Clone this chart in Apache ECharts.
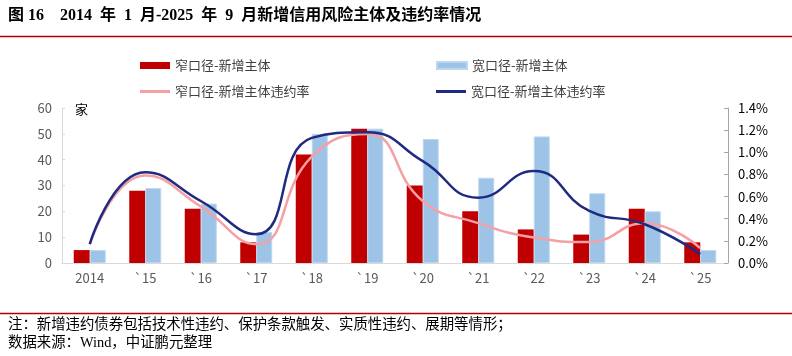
<!DOCTYPE html>
<html><head><meta charset="utf-8">
<script src="https://cdn.jsdelivr.net/npm/echarts@6/dist/echarts.min.js"></script>
<style>html,body{margin:0;padding:0;background:#fff}#c{width:792px;height:356px}</style>
</head><body><div id="c"></div>
<script>
const categories = ['2014','`15','`16','`17','`18','`19','`20','`21','`22','`23','`24','`25'];
const narrowCount = [5,28,21,8,42,52,30,20,13,11,21,8];
const wideCount = [5,29,23,12,50,52,48,33,49,27,20,5];
const narrowRate = [0.17,0.79,0.51,0.17,0.96,1.165,0.56,0.36,0.23,0.19,0.36,0.135];
const wideRate = [0.17,0.82,0.56,0.26,1.13,1.18,0.92,0.59,0.83,0.47,0.35,0.08];
const leftTicks = [0,10,20,30,40,50,60];
const rightTicks = ['0.0%','0.2%','0.4%','0.6%','0.8%','1.0%','1.2%','1.4%'];
const names = ['窄口径-新增主体','宽口径-新增主体','窄口径-新增主体违约率','宽口径-新增主体违约率'];
const titleText = '图 16\u2002\u20022014\u2002年\u20021\u2002月-2025\u2002年\u20029\u2002月新增信用风险主体及违约率情况';
const note1 = '注：新增违约债券包括技术性违约、保护条款触发、实质性违约、展期等情形；';
const note2 = '数据来源：Wind，中证鹏元整理';

const chart = echarts.init(document.getElementById('c'), null, {renderer:'canvas'});
const sansFont = '"Noto Sans CJK SC", "Liberation Sans", sans-serif';
const serifFont = '"Liberation Serif", "Noto Sans CJK SC", serif';
const legendText = {color:'#404040', fontSize:13, fontFamily:sansFont};
function lg(left, top, name, h){
  return {left:left, top:top, itemWidth:30, itemHeight:h, icon:'rect', textStyle:legendText, data:[name]};
}
chart.setOption({
  animation:false,
  backgroundColor:'#fff',
  grid:{left:62, right:64, top:108, bottom:93},
  legend:[
    lg(135, 54, names[0], 7),
    lg(431, 54, names[1], 7),
    lg(135, 80, names[2], 3),
    lg(431, 80, names[3], 3)
  ],
  xAxis:{type:'category', data:categories,
    axisLine:{lineStyle:{color:'#d9d9d9', width:1}}, axisTick:{show:false},
    axisLabel:{color:'#595959', fontSize:13, margin:9, fontFamily:sansFont}},
  yAxis:[
    {type:'value', min:0, max:60, interval:10, position:'left',
     axisLine:{show:true, lineStyle:{color:'#d9d9d9'}}, axisTick:{show:true, inside:true, length:3, lineStyle:{color:'#d9d9d9'}},
     splitLine:{show:false},
     axisLabel:{color:'#595959', fontSize:13, margin:10, fontFamily:sansFont,
       formatter:v=>String(leftTicks[Math.round(v/10)])}},
    {type:'value', min:0, max:1.4, interval:0.2, position:'right',
     axisLine:{show:true, lineStyle:{color:'#a6a6a6'}}, axisTick:{show:true, inside:true, length:4, lineStyle:{color:'#a6a6a6'}},
     splitLine:{show:false},
     axisLabel:{color:'#000', fontSize:13, margin:10, fontFamily:sansFont,
       formatter:v=>rightTicks[Math.round(v/0.2)]}}
  ],
  series:[
    {name:names[0], type:'bar', data:narrowCount, barWidth:16, barGap:'0%', barCategoryGap:'42%',
     itemStyle:{color:'#C00000'}},
    {name:names[1], type:'bar', data:wideCount, barWidth:16, barGap:'0%',
     itemStyle:{color:'#9DC3E6', borderColor:'#BDD7EE', borderWidth:1}},
    {name:names[2], type:'line', yAxisIndex:1, data:narrowRate, smooth:0.5, symbol:'none',
     lineStyle:{color:'#F4A0A4', width:2.5}, itemStyle:{color:'#F4A0A4'}},
    {name:names[3], type:'line', yAxisIndex:1, data:wideRate, smooth:0.5, symbol:'none',
     lineStyle:{color:'#1F2A80', width:2.5}, itemStyle:{color:'#1F2A80'}}
  ],
  graphic:[
    {type:'text', left:8, top:8, style:{text:titleText, fontSize:16, fontWeight:'bold', fill:'#000', fontFamily:serifFont}},
    {type:'line', shape:{x1:0, y1:36.5, x2:792, y2:36.5}, style:{stroke:'#B00000', lineWidth:1.5}},
    {type:'text', left:75, top:103, style:{text:'家', fontSize:13, fill:'#000', fontFamily:sansFont}},
    {type:'line', shape:{x1:0, y1:313.5, x2:792, y2:313.5}, style:{stroke:'#B00000', lineWidth:1.5}},
    {type:'text', left:8, top:318, style:{text:note1, fontSize:14.4, fill:'#000', fontFamily:serifFont}},
    {type:'text', left:8, top:336, style:{text:note2, fontSize:14.4, fill:'#000', fontFamily:serifFont}}
  ]
});
</script></body></html>
